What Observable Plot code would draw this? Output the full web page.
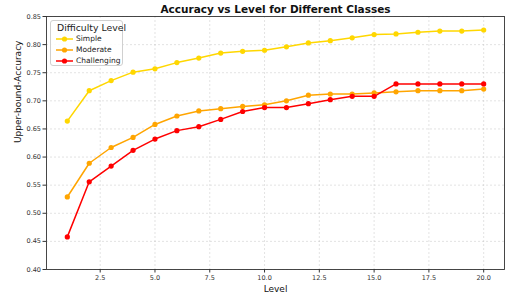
<!DOCTYPE html>
<html>
<head>
<meta charset="utf-8">
<script src="https://cdn.jsdelivr.net/npm/d3@7"></script>
<script src="https://cdn.jsdelivr.net/npm/@observablehq/plot@0.6"></script>
<style>
  html, body { margin: 0; padding: 0; background: #fff; }
  #wrap { position: relative; width: 506px; height: 293px; font-family: "DejaVu Sans", sans-serif; }
  #legend { position: absolute; left: 50px; top: 20px; width: 73px; height: 46px; box-sizing: border-box;
            border: 1px solid #d0d0d0; border-radius: 3px; background: rgba(255,255,255,0.85); }
  #legend .ttl { position: absolute; left: 6px; top: 1px; font-size: 9.3px; color: #222; white-space: nowrap; }
  #legend .item { position: absolute; left: 4px; height: 10px; white-space: nowrap; font-size: 7.5px; color: #222; }
  #legend .item svg { position: absolute; left: 0; top: 0; }
  #legend .item span { position: absolute; left: 21px; top: 0px; line-height: 10px; }
</style>
</head>
<body>
<div id="wrap"></div>
<script>
const title = "Accuracy vs Level for Different Classes";
const xLabel = "Level";
const yLabel = "Upper-bound-Accuracy";
const legendTitle = "Difficulty Level";
const seriesNames = ["Simple", "Moderate", "Challenging"];
const seriesColors = ["#FFD700", "#FFA500", "#FF0000"];
const levels = [1,2,3,4,5,6,7,8,9,10,11,12,13,14,15,16,17,18,19,20];
const simple = [0.664,0.718,0.736,0.751,0.757,0.768,0.776,0.785,0.788,0.790,0.796,0.803,0.807,0.812,0.818,0.819,0.822,0.824,0.824,0.826];
const moderate = [0.529,0.589,0.617,0.635,0.658,0.673,0.682,0.686,0.690,0.693,0.700,0.710,0.712,0.712,0.714,0.716,0.718,0.718,0.718,0.721];
const challenging = [0.458,0.556,0.584,0.612,0.632,0.647,0.654,0.667,0.681,0.688,0.688,0.695,0.702,0.708,0.708,0.730,0.730,0.730,0.730,0.730];
const xTicks = [2.5,5.0,7.5,10.0,12.5,15.0,17.5,20.0];
const yTicks = [0.40,0.45,0.50,0.55,0.60,0.65,0.70,0.75,0.80,0.85];

const seriesValues = [simple, moderate, challenging];
const rows = [];
seriesNames.forEach((name, i) => {
  levels.forEach((lv, j) => rows.push({level: lv, value: seriesValues[i][j], series: name}));
});

const chart = Plot.plot({
  width: 506,
  height: 293,
  marginTop: 16,
  marginBottom: 24,
  marginLeft: 46,
  marginRight: 2,
  style: {fontFamily: "DejaVu Sans, sans-serif", fontSize: "6.5px", color: "#333", background: "#fff"},
  x: {domain: [0.05, 20.95], ticks: xTicks, tickFormat: ".1f", label: null},
  y: {domain: [0.40, 0.85], ticks: yTicks, tickFormat: ".2f", label: null},
  color: {domain: seriesNames, range: seriesColors},
  marks: [
    Plot.gridX(xTicks, {stroke: "#b0b0b0", strokeOpacity: 0.5, strokeDasharray: "2,2", strokeWidth: 0.7}),
    Plot.gridY(yTicks, {stroke: "#b0b0b0", strokeOpacity: 0.5, strokeDasharray: "2,2", strokeWidth: 0.7}),
    Plot.axisX({ticks: xTicks, tickFormat: ".1f", tickSize: 3.5, tickPadding: 2, stroke: "#333", fill: "#333", label: null}),
    Plot.axisY({ticks: yTicks, tickFormat: ".2f", tickSize: 3.5, tickPadding: 2, stroke: "#333", fill: "#333", label: null}),
    Plot.line(rows, {x: "level", y: "value", z: "series", stroke: "series", strokeWidth: 1.5}),
    Plot.dot(rows, {x: "level", y: "value", fill: "series", r: 2.6}),
    Plot.frame({stroke: "#333", strokeWidth: 0.9}),
    Plot.text([title], {frameAnchor: "top", dy: -4, lineAnchor: "bottom", fontWeight: "bold", fontSize: 10.5, fill: "#111"}),
    Plot.text([xLabel], {frameAnchor: "bottom", dy: 22, lineAnchor: "bottom", fontSize: 9, fill: "#111"}),
    Plot.text([yLabel], {frameAnchor: "left", dx: -28, rotate: -90, fontSize: 9, fill: "#111"})
  ]
});

const wrap = document.getElementById("wrap");
wrap.appendChild(chart);

const legend = document.createElement("div");
legend.id = "legend";
const ttl = document.createElement("div");
ttl.className = "ttl";
ttl.textContent = legendTitle;
legend.appendChild(ttl);
seriesNames.forEach((name, i) => {
  const item = document.createElement("div");
  item.className = "item";
  item.style.top = (13 + i * 11) + "px";
  item.innerHTML = `<svg width="20" height="10"><line x1="1" y1="5" x2="18" y2="5" stroke="${seriesColors[i]}" stroke-width="1.5"/><circle cx="9.5" cy="5" r="2.6" fill="${seriesColors[i]}"/></svg><span>${name}</span>`;
  legend.appendChild(item);
});
wrap.appendChild(legend);
</script>
</body>
</html>
